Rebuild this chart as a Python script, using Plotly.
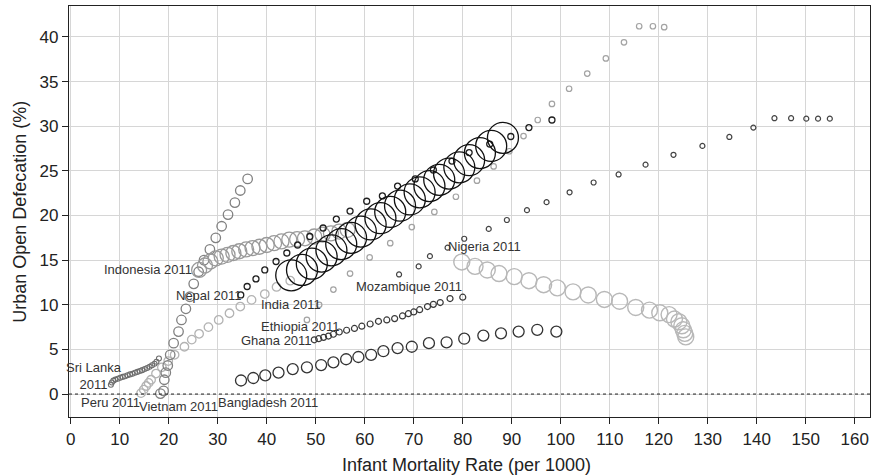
import plotly.graph_objects as go

# ---------------- data (Infant mortality rate, urban open defecation %) ----------------
countries = ["Peru", "Sri Lanka", "Vietnam", "Indonesia", "Ethiopia", "Nigeria",
             "Bangladesh", "Ghana", "Mozambique", "Nepal", "India"]

peru_x = [14.35, 14.9, 15.4, 15.9, 16.4, 17.4, 18.6, 19.9, 21.2, 23.2, 24.7, 26.2, 28.1,
          30.2, 32.4, 34.6, 36.9, 39.6, 42.0, 44.8]
peru_y = [0.1, 0.5, 0.9, 1.25, 1.6, 2.3, 3.0, 3.7, 4.4, 5.3, 6.1, 6.75, 7.5,
          8.3, 9.05, 9.8, 10.55, 11.2, 12.0, 12.7]

sri_lanka_x = [8.2, 8.4, 8.7, 9.1, 9.6, 10.1, 10.6, 11.1, 11.6, 12.1, 12.6, 13.1, 13.6,
               14.1, 14.6, 15.1, 15.6, 16.1, 16.6, 17.1, 17.5, 18.0]
sri_lanka_y = [1.05, 1.3, 1.5, 1.62, 1.72, 1.82, 1.92, 2.0, 2.1, 2.2, 2.28, 2.38, 2.48,
               2.58, 2.68, 2.8, 2.92, 3.06, 3.22, 3.4, 3.62, 3.98]

vietnam_x = [18.3, 18.95, 19.1, 19.4, 19.8, 20.3, 21.0, 22.0, 22.6, 23.5, 24.3, 25.1,
             26.1, 27.2, 28.4, 29.6, 30.8, 32.1, 33.5, 34.6, 36.1]
vietnam_y = [0.05, 0.35, 1.6, 2.4, 3.2, 4.4, 5.7, 7.0, 8.3, 9.55, 10.9, 12.35,
             13.7, 15.0, 16.2, 17.5, 18.8, 20.1, 21.45, 22.8, 24.1]

indonesia_x = [26.2, 27.4, 28.5, 29.6, 30.8, 32.0, 33.2, 34.4, 35.8, 37.1, 38.5, 40.0,
               41.5, 43.0, 44.6, 46.2, 47.8, 49.7, 51.4, 53.1, 54.8, 56.5]
indonesia_y = [13.9, 14.4, 14.85, 15.2, 15.4, 15.6, 15.8, 16.0, 16.2, 16.35, 16.5, 16.7,
               16.9, 17.1, 17.3, 17.35, 17.45, 17.65, 17.85, 18.0, 18.2, 18.4]

ethiopia_x = [48.2, 50.7, 53.6, 57.0, 61.0, 65.2, 69.6, 74.2, 78.6, 82.9, 86.3, 89.5,
              92.4, 95.3, 98.2, 101.7, 105.4, 109.2, 112.9, 116.0, 118.8, 121.1]
ethiopia_y = [8.3, 10.0, 11.7, 13.5, 15.3, 16.9, 18.7, 20.4, 22.1, 23.9, 25.5, 27.2,
              28.9, 30.7, 32.5, 34.2, 35.9, 37.6, 39.4, 41.2, 41.2, 41.1]

nigeria_x = [79.8, 82.5, 85.0, 87.4, 90.5, 93.5, 96.5, 99.3, 102.5, 105.6, 108.9, 112.0,
             115.3, 118.1, 120.2, 122.1, 123.2, 124.1, 124.7, 125.0, 125.3, 125.5]
nigeria_y = [14.8, 14.3, 13.9, 13.5, 13.15, 12.7, 12.25, 11.9, 11.45, 11.1, 10.6, 10.4,
             9.7, 9.4, 9.1, 8.9, 8.4, 8.1, 7.65, 7.2, 6.8, 6.4]

bangladesh_x = [34.75, 37.25, 39.7, 42.4, 45.3, 48.2, 51.1, 53.6, 56.2, 58.7, 61.3, 63.8,
                66.7, 69.6, 73.1, 76.7, 80.3, 84.2, 87.8, 91.4, 95.2, 99.1]
bangladesh_y = [1.52, 1.8, 2.1, 2.4, 2.8, 3.0, 3.25, 3.55, 3.9, 4.15, 4.4, 4.8,
                5.15, 5.3, 5.7, 5.8, 6.2, 6.55, 6.8, 7.0, 7.2, 7.0]

ghana_x = [49.7, 50.6, 51.6, 52.6, 53.6, 54.8, 56.3, 57.9, 59.4, 61.1, 62.8, 64.5,
           66.1, 67.7, 68.9, 70.0, 71.2, 72.8, 74.0, 75.4, 77.4, 80.0]
ghana_y = [6.08, 6.2, 6.35, 6.5, 6.7, 6.95, 7.15, 7.35, 7.6, 7.85, 8.15, 8.3,
           8.45, 8.75, 9.0, 9.2, 9.45, 9.8, 10.05, 10.25, 10.7, 10.85]

mozambique_x = [67.0, 71.0, 73.3, 76.9, 80.3, 85.3, 89.0, 93.1, 97.1, 101.8, 106.7, 111.8,
                117.3, 123.0, 128.9, 134.4, 139.3, 143.6, 147.0, 150.1, 152.5, 154.9]
mozambique_y = [13.4, 14.3, 15.45, 16.4, 17.4, 18.5, 19.5, 20.6, 21.5, 22.6, 23.7, 24.6,
                25.7, 26.8, 27.8, 28.8, 29.85, 30.9, 30.9, 30.85, 30.85, 30.85]

nepal_x = [34.7, 36.0, 37.8, 39.6, 41.9, 44.1, 46.3, 48.8, 51.5, 54.2, 57.0, 60.4,
           63.6, 66.7, 70.3, 74.0, 77.8, 81.3, 85.5, 89.8, 93.5, 98.2]
nepal_y = [11.1, 12.05, 12.9, 13.9, 14.85, 15.8, 16.7, 17.65, 18.6, 19.6, 20.5, 21.6,
           22.2, 23.3, 24.1, 25.1, 26.1, 27.05, 28.0, 28.85, 29.85, 30.7]

india_x = [45.0, 47.2, 49.2, 51.2, 53.2, 55.2, 57.2, 59.2, 61.2, 63.2, 65.2, 67.2,
           69.2, 71.2, 73.2, 75.2, 77.2, 79.3, 81.3, 83.5, 85.8, 88.2]
india_y = [13.3, 13.9, 14.6, 15.4, 16.1, 16.8, 17.5, 18.2, 19.0, 19.7, 20.4, 21.1,
           21.8, 22.6, 23.3, 24.0, 24.7, 25.4, 26.2, 27.0, 27.8, 28.7]

label_text = ["Peru 2011", "Sri Lanka<br>2011", "Vietnam 2011", "Indonesia 2011",
              "Ethiopia 2011", "Nigeria 2011", "Bangladesh 2011", "Ghana 2011",
              "Mozambique 2011", "Nepal 2011", "India 2011"]
label_x = [8.13, 4.73, 22.0, 15.7, 46.8, 84.5, 40.3, 42.05, 69.1, 28.2, 44.9]
label_y = [-0.94, 2.0, -1.39, 13.9, 7.57, 16.53, -0.94, 5.97, 12.05, 11.05, 10.0]

x_ticks = list(range(0, 161, 10))
y_ticks = list(range(0, 41, 5))
x_title = "Infant Mortality Rate (per 1000)"
y_title = "Urban Open Defecation (%)"

series = {
    "Peru": (peru_x, peru_y),
    "Sri Lanka": (sri_lanka_x, sri_lanka_y),
    "Vietnam": (vietnam_x, vietnam_y),
    "Indonesia": (indonesia_x, indonesia_y),
    "Ethiopia": (ethiopia_x, ethiopia_y),
    "Nigeria": (nigeria_x, nigeria_y),
    "Bangladesh": (bangladesh_x, bangladesh_y),
    "Ghana": (ghana_x, ghana_y),
    "Mozambique": (mozambique_x, mozambique_y),
    "Nepal": (nepal_x, nepal_y),
    "India": (india_x, india_y),
}

# ---------------- styles ----------------
style = {
    "Peru": dict(color="#b3b3b3", size=8.5, width=1.3),
    "Sri Lanka": dict(color="#6e6e6e", size=5, width=1.1),
    "Vietnam": dict(color="#808080", size=9.5, width=1.3),
    "Indonesia": dict(color="#9a9a9a", size=15, width=1.3),
    "Ethiopia": dict(color="#a3a3a3", size=5.5, width=1.2),
    "Nigeria": dict(color="#b8b8b8", size=16, width=1.4),
    "Bangladesh": dict(color="#333333", size=11, width=1.3),
    "Ghana": dict(color="#3a3a3a", size=6, width=1.2),
    "Mozambique": dict(color="#444444", size=5, width=1.2),
    "Nepal": dict(color="#1f1f1f", size=6, width=1.3),
    "India": dict(color="#111111", size=31, width=1.3),
}

FONT = "Liberation Sans, Arial, sans-serif"

fig = go.Figure()
for c in countries:
    xs, ys = series[c]
    st = style[c]
    fig.add_trace(go.Scatter(
        x=xs, y=ys, mode="markers", name=c, showlegend=False,
        marker=dict(symbol="circle-open", size=st["size"], color=st["color"],
                    line=dict(width=st["width"], color=st["color"])),
    ))

for t, lx, ly in zip(label_text, label_x, label_y):
    fig.add_annotation(x=lx, y=ly, text=t, showarrow=False,
                       font=dict(family=FONT, size=13, color="#333333"),
                       xanchor="center", yanchor="middle", align="center")

# axis titles
fig.add_annotation(xref="paper", yref="paper", x=0.496, y=-0.117, text=x_title,
                   showarrow=False, xanchor="center", yanchor="middle",
                   font=dict(family=FONT, size=18, color="#222222"))
fig.add_annotation(xref="paper", yref="paper", x=-0.062, y=0.5, text=y_title,
                   textangle=-90, showarrow=False, xanchor="center", yanchor="middle",
                   font=dict(family=FONT, size=18, color="#222222"))

fig.add_shape(type="line", xref="paper", yref="y", x0=0, x1=1, y0=0, y1=0,
              line=dict(color="#222222", width=1, dash="dot"))

axis_common = dict(
    showline=True, linecolor="#222222", linewidth=1.3, mirror=True,
    showgrid=True, gridcolor="#d6d6d6", gridwidth=1.3, zeroline=False,
    ticks="outside", ticklen=6, tickwidth=1.2, tickcolor="#222222",
    tickfont=dict(family=FONT, size=17, color="#222222"),
    automargin=False,
)

fig.update_xaxes(range=[-0.35, 163.1], tickvals=x_ticks, **axis_common)
fig.update_yaxes(range=[-2.57, 43.47], tickvals=y_ticks, **axis_common)

fig.update_layout(
    width=872, height=475,
    margin=dict(l=69, r=2, t=6, b=58),
    plot_bgcolor="white", paper_bgcolor="white",
    font=dict(family=FONT),
)

fig.write_html("out.html",
               config={"displayModeBar": False},
               post_script="document.body.style.margin='0';"
                           "document.body.style.overflow='hidden';")
